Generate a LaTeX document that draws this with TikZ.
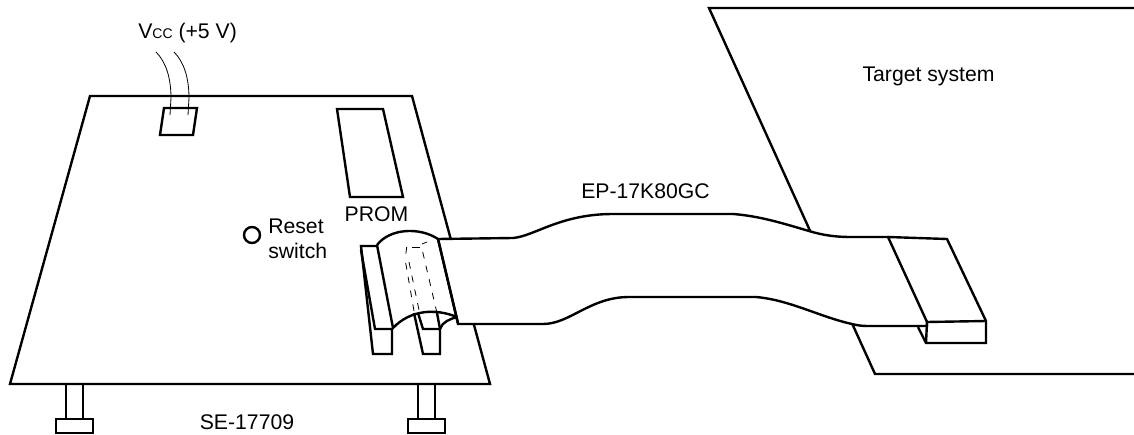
\documentclass[tikz,border=0pt]{standalone}
\usepackage{fontspec}
\setmainfont{Liberation Sans}
\newcommand{\drawthick}{\draw[line width=1.8pt]}
\newcommand{\drawthin}{\draw[line width=0.6pt]}
\newcommand{\drawdash}{\draw[line width=0.6pt,dash pattern=on 5pt off 5.5pt]}
\newcommand{\drawfoot}[1]{
    \drawthick (#1,384)--++(0,35);
    \drawthick (#1+17,384)--++(0,35);
    \drawthick (#1-10,419) rectangle ++(37,14);
}
\tikzset{every node/.style={font=\fontsize{15.9}{18}\selectfont,inner sep=0pt,anchor=base}}
\begin{document}
\begin{tikzpicture}[x=0.75pt,y=-0.75pt]
\useasboundingbox (0,0) rectangle (1134,435);
% target
\drawthick (1134,8)--(709,8)--(875,374)--(1134,374);
% board
\drawthick (90,96)--(412,96)--(490,384)--(10,384)--cycle;
\drawfoot{66}\drawfoot{418}
\drawthick (164,108)--(197,108)--(193,135)--(160,135)--cycle;
\drawthin (156,52)..controls (166,62) and (171,78)..(171,98)--(170,115);
\drawthin (174,52)..controls (184,62) and (189,78)..(189,98)--(188,115);
\drawthick (337,109)--(383,109)--(403,197)--(350,197)--cycle;
\drawthick (252,235) circle (6pt);
% ribbon
\drawthick[fill=white] (438,239)--(513,238)..controls (535,236) and (560,214)..(613,214)--(733,214)
    ..controls (760,216) and (785,224)..(809,231)..controls (822,235) and (835,237)..(850,237)
    --(888,237)--(927,322)--(927,326)--(868,326)..controls (862,326) and (858,325.5)..(852,324)
    ..controls (820,317) and (790,300)..(756,297)--(629,297)..controls (590,297) and (570,324)..(543,324)--(458,324)--cycle;
% plug on target
\drawthick (888,237)--(947,239)--(986,321)--(986,343)--(926,343)--(918,327);
\drawthick (927,322)--(986,321);
\drawthick (927,322)--(926,343);
% socket
\drawthick (377,246)--(361,246)--(373,354)--(392,354)--(392,329)--(374,329);
\drawthick (361,250)--(375,329);
\drawthick (414,313)--(423,354)--(440,354)--(440,329)--(423,329)--(418,313);
\drawthick (437,313)--(440,329);
% hood
\drawthick (377,245)..controls (390,228) and (420,227)..(438,239)--(458,323);
\drawthick (377,245)--(393,328)..controls (410,310) and (435,308)..(457,317);
\drawthick (440,329)..controls (442,322) and (450,319)..(457,317);
\drawdash (406.7,247)--(405.7,255);
\drawdash (405.7,263)--(414,311);
\drawdash (409,262)--(419,310);
\drawdash (422.7,252)--(437,313);
\drawthin (412,247)--(420,247);
\drawthin (422,244)--(427,242);
% labels
\node[anchor=base west] (vcc) at (138,39) {V{\fontsize{10.5}{12}\selectfont CC} (+5 V)};
\node (target) at (928.5,82) {Target system};
\node (cable) at (645.5,198) {EP-17K80GC};
\node (prom) at (376.5,221) {PROM};
\node[anchor=base west] (reset) at (268,233) {Reset};
\node[anchor=base west] (resetb) at (268,258) {switch};
\node (board) at (247,429) {SE-17709};
\end{tikzpicture}
\end{document}
